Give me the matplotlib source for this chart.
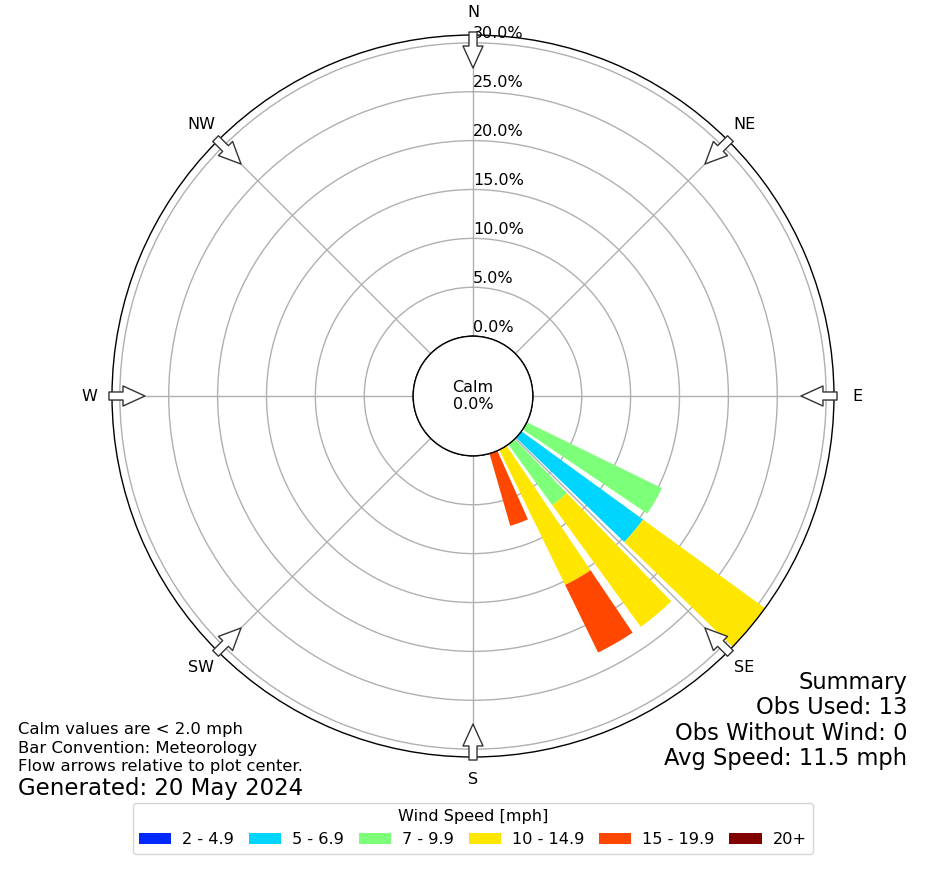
import numpy as np
import matplotlib
matplotlib.use("Agg")
import matplotlib.pyplot as plt
from matplotlib.patches import Circle

# wind directions (deg, where the wind comes from) that have data
directions = [120, 130, 140, 150, 160]
speed_bins = ["2 - 4.9", "5 - 6.9", "7 - 9.9", "10 - 14.9", "15 - 19.9", "20+"]
# frequency (%) per speed bin, one value per direction above
freq = {
    "2 - 4.9":   [0.0, 0.0, 0.0, 0.0, 0.0],
    "5 - 6.9":   [0.0, 15.38, 0.0, 0.0, 0.0],
    "7 - 9.9":   [15.38, 0.0, 7.69, 0.0, 0.0],
    "10 - 14.9": [0.0, 15.38, 15.38, 15.38, 0.0],
    "15 - 19.9": [0.0, 0.0, 0.0, 7.69, 7.69],
    "20+":       [0.0, 0.0, 0.0, 0.0, 0.0],
}
compass = ["N", "NE", "E", "SE", "S", "SW", "W", "NW"]
rings = [0, 5, 10, 15, 20, 25, 30]
calm_pct = 0.0

colors = plt.cm.jet(np.linspace(0, 1, 7))[1:]

fig = plt.figure(figsize=(9.41, 8.69), dpi=100)
ax = fig.add_axes([0.1190, 0.1289, 0.7673, 0.8308], projection="polar")
ax.set_theta_zero_location("N")
ax.set_theta_direction(-1)
rorigin, rmax = -6.12, 30.8
ax.set_rorigin(rorigin)
ax.set_ylim(0, rmax)

theta = np.radians(directions)
width = np.radians(10) * 0.8
base = np.zeros(len(directions))
handles = []
for i, b in enumerate(speed_bins):
    vals = np.array(freq[b])
    h = ax.bar(theta, vals, width=width, bottom=base, color=colors[i],
               edgecolor="none", label=b, zorder=2)
    handles.append(h)
    base += vals

ax.set_xticks(np.radians(range(0, 360, 45)))
ax.set_xticklabels([])
ax.set_yticks(rings)
ax.set_yticklabels([])
ax.grid(True, color="#b0b0b0", linewidth=1, zorder=1)
ax.spines["polar"].set_linewidth(1.0)

for r in rings:
    ax.text(0, r + 0.15, "%.1f%%" % r, ha="left", va="bottom", fontsize=11.5,
            zorder=5)

# calm circle in the middle
calm_r = 0.5 * (0 - rorigin) / (rmax - rorigin)
ax.add_patch(Circle((0.5, 0.5), calm_r, transform=ax.transAxes, facecolor="white",
                    edgecolor="black", linewidth=1.0, zorder=6, clip_on=False))
ax.text(0.5, 0.5, "Calm\n%.1f%%" % calm_pct, transform=ax.transAxes, ha="center",
        va="center", fontsize=11.5, zorder=7)

# flow arrows + direction labels
for k, name in enumerate(compass):
    t = np.radians(k * 45)
    ax.annotate("", xy=(t, 27.43), xytext=(t, 31.11), annotation_clip=False,
                arrowprops=dict(facecolor="white", edgecolor="#333333", width=5.8,
                                headwidth=14.4, headlength=15.8, linewidth=1.0),
                zorder=8)
    ax.text(t, 33.15, name, ha="center", va="center", fontsize=11.5, clip_on=False)

notes = ["Calm values are < 2.0 mph", "Bar Convention: Meteorology",
         "Flow arrows relative to plot center."]
for j, s in enumerate(notes):
    fig.text(0.019, 0.161 - j * 0.0218, s, ha="left", va="center", fontsize=11.8)
fig.text(0.019, 0.0932, "Generated: 20 May 2024", ha="left", va="center", fontsize=16.5)

summary = ["Summary", "Obs Used: 13", "Obs Without Wind: 0", "Avg Speed: 11.5 mph"]
for j, s in enumerate(summary):
    fig.text(0.964, 0.215 - j * 0.0294, s, ha="right", va="center", fontsize=16.3)

fig.legend(handles, speed_bins, loc="upper center", bbox_to_anchor=(473 / 941, 0.076),
           borderaxespad=0, ncol=6, fontsize=11.6, title="Wind Speed [mph]",
           title_fontsize=11.6, columnspacing=0.9, handletextpad=0.7)

fig.savefig("out.png", dpi=100)
